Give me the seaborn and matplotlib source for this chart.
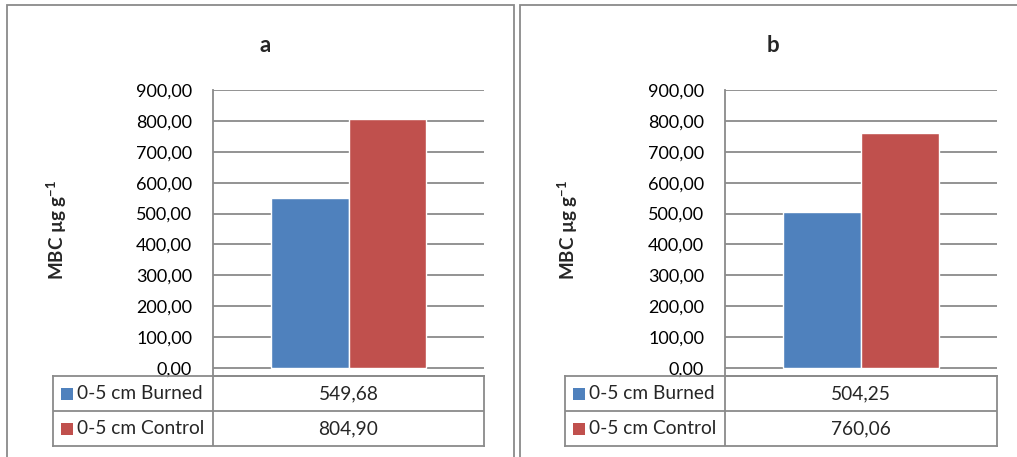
import numpy as np
import pandas as pd
import matplotlib
matplotlib.use('Agg')
import matplotlib.pyplot as plt
import seaborn as sns
from matplotlib.patches import Rectangle

# ==================== DATA ====================

PANELS = ['a', 'b']
TREATMENTS = ['0-5 cm Burned', '0-5 cm Control']
MBC_A = [549.68, 804.90]
MBC_B = [504.25, 760.06]
YTICKS = [0, 100, 200, 300, 400, 500, 600, 700, 800, 900]
COLORS = ['#4F81BD', '#C0504D']

GRAY = '#8a8a8a'
W, H = 1017, 457

sns.set_theme(style='white')
plt.rcParams['font.family'] = ['Lato', 'DejaVu Sans']
plt.rcParams['mathtext.fontset'] = 'custom'
plt.rcParams['mathtext.rm'] = 'Lato'
plt.rcParams['mathtext.bf'] = 'Lato:bold'


def px(x0, y0, x1, y1):
    return [x0 / W, 1 - y1 / H, (x1 - x0) / W, (y1 - y0) / H]


def fmt(v):
    return f"{v:.2f}".replace('.', ',')


fig = plt.figure(figsize=(W / 100, H / 100), dpi=100)
fig.patch.set_facecolor('white')

# ==================== PANEL FRAMES ====================

for x0, x1 in [(7, 514), (520, 1030)]:
    fig.add_artist(Rectangle((x0 / W, -0.1), (x1 - x0) / W, 1 - 5 / H + 0.1,
                             transform=fig.transFigure, fill=False,
                             edgecolor=GRAY, lw=1.3))

layout = {
    'a': dict(plot=(213, 484), tab=53, label_x=57, title_x=265, vals=MBC_A),
    'b': dict(plot=(725, 997), tab=565, label_x=568, title_x=773, vals=MBC_B),
}

# ==================== PANELS ====================

for panel in PANELS:
    cfg = layout[panel]
    x0, x1 = cfg['plot']
    wpx = x1 - x0
    df = pd.DataFrame({'depth': ['0-5 cm'] * 2,
                       'treatment': TREATMENTS,
                       'MBC': cfg['vals']})

    ax = fig.add_axes(px(x0, 90, x1, 376))
    sns.barplot(data=df, x='depth', y='MBC', hue='treatment',
                palette=COLORS, width=0.575, saturation=1,
                legend=False, ax=ax, zorder=3)
    ax.set_ylim(-900 * 8 / 278, 900)
    ax.set_xlim(-0.5, 0.5)
    ax.set_yticks(YTICKS)
    ax.set_yticklabels([fmt(v) for v in YTICKS], fontsize=13, color='black')
    ax.set_xticks([])
    ax.set_xlabel('')
    ax.tick_params(axis='y', length=0, pad=15)
    ax.yaxis.grid(True, color=GRAY, lw=1.3)
    ax.set_axisbelow(True)
    for s in ['top', 'right']:
        ax.spines[s].set_visible(False)
    for s in ['left', 'bottom']:
        ax.spines[s].set_color(GRAY)
        ax.spines[s].set_linewidth(1.3)

    ax.set_ylabel(r'MBC µg g$^{\mathbf{-1}}$', fontsize=13.5,
                  fontweight='bold', va='center')
    ax.yaxis.set_label_coords((cfg['label_x'] - x0) / wpx, 0.51)
    ax.text((cfg['title_x'] - x0) / wpx, 1.157, panel,
            transform=ax.transAxes, ha='center', va='center',
            fontsize=16, fontweight='bold')

    # data table under the chart
    t0 = cfg['tab']
    tw = x1 - t0
    tax = fig.add_axes(px(t0, 376, x1, 446))
    tax.set_xlim(0, 1)
    tax.set_ylim(0, 2)
    tax.set_xticks([])
    tax.set_yticks([])
    tax.set_facecolor('none')
    for s in tax.spines.values():
        s.set_color(GRAY)
        s.set_linewidth(1.3)
    split = (x0 - t0) / tw
    tax.axhline(1, color=GRAY, lw=1.3)
    tax.axvline(split, color=GRAY, lw=1.3)
    for i, (lab, val, col) in enumerate(zip(TREATMENTS, cfg['vals'], COLORS)):
        yc = 1.5 - i
        tax.scatter([13.5 / tw], [yc], marker='s', s=80, color=col,
                    linewidths=0, clip_on=False)
        tax.text(24 / tw, yc, lab, ha='left', va='center', fontsize=13.8)
        tax.text((split + 1) / 2, yc, fmt(val), ha='center', va='center',
                 fontsize=13.8)

plt.savefig('out.png', dpi=100)
